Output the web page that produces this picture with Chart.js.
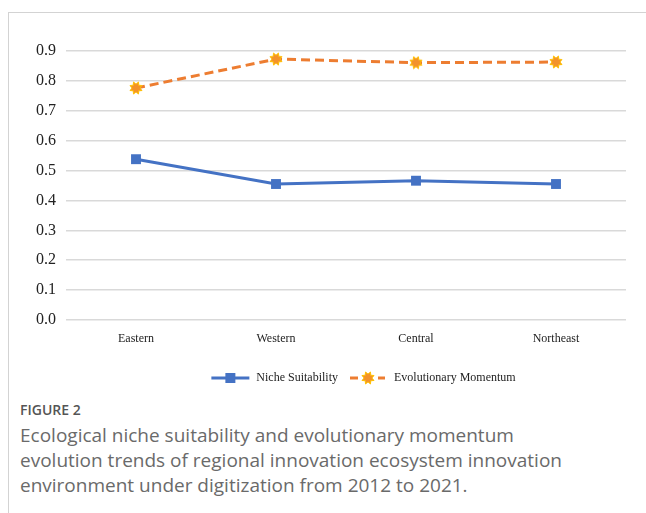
<!DOCTYPE html>
<html>
<head>
<meta charset="utf-8">
<script src="https://cdn.jsdelivr.net/npm/chart.js@4.4.1/dist/chart.umd.min.js"></script>
<style>
  html, body { margin: 0; padding: 0; background: #fff; width: 646px; height: 513px; overflow: hidden; }
  .card { position: absolute; left: 8px; top: 12px; right: 0; bottom: 0;
          border-top: 1px solid #d3d3d3; border-left: 1px solid #d3d3d3; }
  #wrap { position: absolute; left: 0; top: 0; width: 646px; height: 400px; }
  .fig { position: absolute; left: 20px; top: 400px; font-family: "Open Sans", sans-serif;
         font-size: 14px; font-weight: 600; color: #555; }
  .cap { position: absolute; left: 20px; top: 423px; width: 620px; font-family: "Open Sans", sans-serif;
         font-size: 19px; line-height: 25px; color: #6a6a6a; font-weight: 400; white-space: nowrap; }
</style>
</head>
<body>
<div class="card"></div>
<div id="wrap"><canvas id="c"></canvas></div>
<div class="fig">FIGURE 2</div>
<div class="cap">Ecological niche suitability and evolutionary momentum<br>evolution trends of regional innovation ecosystem innovation<br>environment under digitization from 2012 to 2021.</div>
<script>
// Regions and indicator values
const regions = ['Eastern', 'Western', 'Central', 'Northeast'];
const nicheSuitability = [0.538, 0.455, 0.466, 0.455];
const evolutionaryMomentum = [0.776, 0.873, 0.861, 0.863];
const yTicks = ['0.0', '0.1', '0.2', '0.3', '0.4', '0.5', '0.6', '0.7', '0.8', '0.9'];

const BLUE = '#4472C4';
const ORANGE = '#ED7D31';
const GOLD = '#FFC000';

// Burst-shaped marker for the momentum series
function starMarker(size) {
  const c = document.createElement('canvas');
  c.width = size; c.height = size;
  const g = c.getContext('2d');
  const cx = size / 2, cy = size / 2, ro = size / 2 - 0.5, ri = ro * 0.6;
  g.beginPath();
  for (let i = 0; i < 16; i++) {
    const r = i % 2 === 0 ? ro : ri;
    const a = Math.PI / 8 * i + Math.PI / 8;
    const x = cx + r * Math.cos(a), y = cy + r * Math.sin(a);
    if (i === 0) g.moveTo(x, y); else g.lineTo(x, y);
  }
  g.closePath();
  g.fillStyle = '#F3922A';
  g.fill();
  g.lineWidth = 1;
  g.strokeStyle = GOLD;
  g.stroke();
  return c;
}

// Legend swatches: line segment with the series marker in the middle
function legendIcon(kind) {
  const w = 40, h = 14;
  const c = document.createElement('canvas');
  c.width = w; c.height = h;
  const g = c.getContext('2d');
  g.lineWidth = 3;
  if (kind === 'niche') {
    g.strokeStyle = BLUE;
    g.beginPath(); g.moveTo(1, h / 2); g.lineTo(w - 1, h / 2); g.stroke();
    g.fillStyle = BLUE;
    g.fillRect(w / 2 - 5, h / 2 - 5, 10, 10);
  } else {
    g.strokeStyle = ORANGE;
    g.beginPath(); g.moveTo(2, h / 2); g.lineTo(10, h / 2); g.stroke();
    g.beginPath(); g.moveTo(w - 10, h / 2); g.lineTo(w - 3, h / 2); g.stroke();
    g.drawImage(starMarker(14), w / 2 - 7, h / 2 - 7);
  }
  return c;
}

const starImg = starMarker(14);
const icons = [legendIcon('niche'), legendIcon('momentum')];

// Legend sits centred under the plot, slightly right of the canvas centre
const legendShift = {
  id: 'legendShift',
  afterLayout(chart) {
    if (chart.legend) { chart.legend.left += 50; chart.legend.right += 50; }
  }
};

new Chart(document.getElementById('c'), {
  type: 'line',
  data: {
    labels: regions,
    datasets: [
      {
        label: 'Niche Suitability',
        data: nicheSuitability,
        borderColor: BLUE,
        backgroundColor: BLUE,
        borderWidth: 3,
        pointStyle: 'rect',
        pointRadius: 7,
        pointHoverRadius: 7,
        pointBorderWidth: 0,
        tension: 0
      },
      {
        label: 'Evolutionary Momentum',
        data: evolutionaryMomentum,
        borderColor: ORANGE,
        backgroundColor: ORANGE,
        borderWidth: 3,
        borderDash: [9, 5],
        pointStyle: starImg,
        pointRadius: 7,
        tension: 0
      }
    ]
  },
  plugins: [legendShift],
  options: {
    responsive: true,
    maintainAspectRatio: false,
    animation: false,
    layout: { padding: { top: 51, right: 20, bottom: 6, left: 0 } },
    plugins: {
      tooltip: { enabled: false },
      legend: {
        position: 'bottom',
        labels: {
          usePointStyle: true,
          pointStyleWidth: 40,
          boxHeight: 12,
          padding: 10,
          color: '#222',
          font: { family: '"Liberation Serif", "Times New Roman", serif', size: 12 },
          generateLabels: (chart) => chart.data.datasets.map((ds, i) => ({
            text: ds.label,
            pointStyle: icons[i],
            fillStyle: 'transparent',
            strokeStyle: 'transparent',
            lineWidth: 0,
            datasetIndex: i,
            hidden: false,
            fontColor: '#222'
          }))
        }
      }
    },
    scales: {
      x: {
        offset: true,
        grid: { display: false },
        border: { display: false },
        ticks: {
          padding: 4,
          color: '#222',
          font: { family: '"Liberation Serif", "Times New Roman", serif', size: 12 }
        },
        afterFit: (s) => { s.height = 42; }
      },
      y: {
        min: 0,
        max: 0.9,
        border: { display: false },
        grid: { color: '#d9d9d9', lineWidth: 1.5, drawTicks: false },
        ticks: {
          stepSize: 0.1,
          padding: 10,
          color: '#222',
          font: { family: '"Liberation Serif", "Times New Roman", serif', size: 16 },
          callback: (v, i) => yTicks[i]
        },
        afterFit: (s) => { s.width = 66; }
      }
    }
  }
});
</script>
</body>
</html>
